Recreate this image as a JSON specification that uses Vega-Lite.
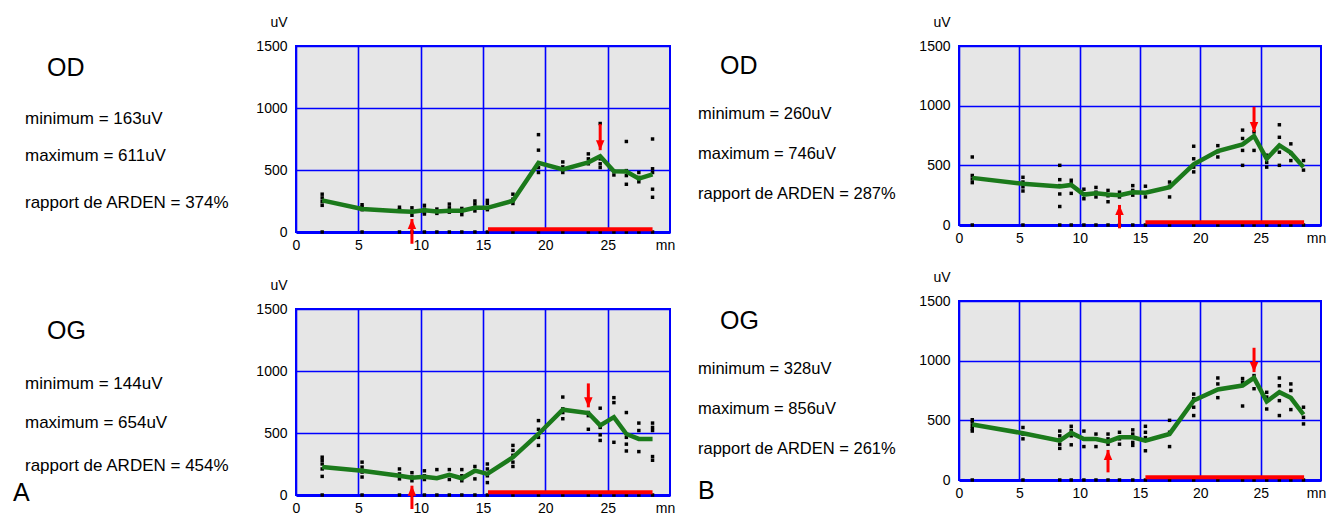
{
  "$schema": "https://vega.github.io/schema/vega-lite/v6.json",
  "background": "white",
  "padding": {"left": 0, "top": 14, "right": 0, "bottom": 0},
  "spacing": 0,
  "align": "each",
  "datasets": {
    "A": [
      {"eye":"OD","kind":"mean","t":2.1,"v":255},{"eye":"OD","kind":"mean","t":5.3,"v":185},{"eye":"OD","kind":"mean","t":8.3,"v":168},{"eye":"OD","kind":"mean","t":9.3,"v":163},{"eye":"OD","kind":"mean","t":10.3,"v":175},{"eye":"OD","kind":"mean","t":11.3,"v":165},{"eye":"OD","kind":"mean","t":12.3,"v":172},{"eye":"OD","kind":"mean","t":13.3,"v":172},{"eye":"OD","kind":"mean","t":14.35,"v":195},{"eye":"OD","kind":"mean","t":15.35,"v":195},{"eye":"OD","kind":"mean","t":17.4,"v":252},{"eye":"OD","kind":"mean","t":19.45,"v":558},{"eye":"OD","kind":"mean","t":21.4,"v":505},{"eye":"OD","kind":"mean","t":23.45,"v":562},{"eye":"OD","kind":"mean","t":24.4,"v":611},{"eye":"OD","kind":"mean","t":25.5,"v":490},{"eye":"OD","kind":"mean","t":26.5,"v":488},{"eye":"OD","kind":"mean","t":27.5,"v":430},{"eye":"OD","kind":"mean","t":28.6,"v":465},
      {"eye":"OD","kind":"dot","t":2.1,"v":305},{"eye":"OD","kind":"dot","t":2.1,"v":275},{"eye":"OD","kind":"dot","t":2.1,"v":245},{"eye":"OD","kind":"dot","t":2.1,"v":215},
      {"eye":"OD","kind":"dot","t":5.3,"v":220},{"eye":"OD","kind":"dot","t":5.3,"v":200},{"eye":"OD","kind":"dot","t":5.3,"v":180},
      {"eye":"OD","kind":"dot","t":8.3,"v":200},{"eye":"OD","kind":"dot","t":8.3,"v":180},
      {"eye":"OD","kind":"dot","t":9.3,"v":195},{"eye":"OD","kind":"dot","t":9.3,"v":165},{"eye":"OD","kind":"dot","t":9.3,"v":135},
      {"eye":"OD","kind":"dot","t":10.3,"v":215},{"eye":"OD","kind":"dot","t":10.3,"v":185},{"eye":"OD","kind":"dot","t":10.3,"v":160},{"eye":"OD","kind":"dot","t":10.3,"v":145},
      {"eye":"OD","kind":"dot","t":11.3,"v":185},{"eye":"OD","kind":"dot","t":11.3,"v":150},
      {"eye":"OD","kind":"dot","t":12.3,"v":225},{"eye":"OD","kind":"dot","t":12.3,"v":195},{"eye":"OD","kind":"dot","t":12.3,"v":160},
      {"eye":"OD","kind":"dot","t":13.3,"v":190},{"eye":"OD","kind":"dot","t":13.3,"v":165},{"eye":"OD","kind":"dot","t":13.3,"v":140},
      {"eye":"OD","kind":"dot","t":14.35,"v":250},{"eye":"OD","kind":"dot","t":14.35,"v":225},{"eye":"OD","kind":"dot","t":14.35,"v":195},{"eye":"OD","kind":"dot","t":14.35,"v":170},
      {"eye":"OD","kind":"dot","t":15.35,"v":255},{"eye":"OD","kind":"dot","t":15.35,"v":230},{"eye":"OD","kind":"dot","t":15.35,"v":180},
      {"eye":"OD","kind":"dot","t":17.4,"v":305},{"eye":"OD","kind":"dot","t":17.4,"v":265},{"eye":"OD","kind":"dot","t":17.4,"v":230},
      {"eye":"OD","kind":"dot","t":19.45,"v":785},{"eye":"OD","kind":"dot","t":19.45,"v":660},{"eye":"OD","kind":"dot","t":19.45,"v":520},{"eye":"OD","kind":"dot","t":19.45,"v":480},
      {"eye":"OD","kind":"dot","t":21.4,"v":565},{"eye":"OD","kind":"dot","t":21.4,"v":525},{"eye":"OD","kind":"dot","t":21.4,"v":480},
      {"eye":"OD","kind":"dot","t":23.45,"v":630},{"eye":"OD","kind":"dot","t":23.45,"v":590},{"eye":"OD","kind":"dot","t":23.45,"v":550},
      {"eye":"OD","kind":"dot","t":24.4,"v":875},{"eye":"OD","kind":"dot","t":24.4,"v":590},{"eye":"OD","kind":"dot","t":24.4,"v":550},{"eye":"OD","kind":"dot","t":24.4,"v":520},
      {"eye":"OD","kind":"dot","t":25.5,"v":490},{"eye":"OD","kind":"dot","t":25.5,"v":460},
      {"eye":"OD","kind":"dot","t":26.5,"v":730},{"eye":"OD","kind":"dot","t":26.5,"v":495},{"eye":"OD","kind":"dot","t":26.5,"v":455},{"eye":"OD","kind":"dot","t":26.5,"v":385},
      {"eye":"OD","kind":"dot","t":27.5,"v":480},{"eye":"OD","kind":"dot","t":27.5,"v":440},{"eye":"OD","kind":"dot","t":27.5,"v":405},
      {"eye":"OD","kind":"dot","t":28.6,"v":750},{"eye":"OD","kind":"dot","t":28.6,"v":510},{"eye":"OD","kind":"dot","t":28.6,"v":480},{"eye":"OD","kind":"dot","t":28.6,"v":345},{"eye":"OD","kind":"dot","t":28.6,"v":280},
      {"eye":"OD","kind":"up","t":9.3,"tail":-95,"tip":105},{"eye":"OD","kind":"down","t":24.4,"tail":870,"tip":660},
      {"eye":"OD","kind":"light","t":15.4,"t2":28.6,"v":22},
      {"eye":"OG","kind":"mean","t":2.1,"v":226},{"eye":"OG","kind":"mean","t":5.3,"v":196},{"eye":"OG","kind":"mean","t":8.3,"v":156},{"eye":"OG","kind":"mean","t":9.3,"v":140},{"eye":"OG","kind":"mean","t":10.3,"v":148},{"eye":"OG","kind":"mean","t":11.3,"v":135},{"eye":"OG","kind":"mean","t":12.3,"v":162},{"eye":"OG","kind":"mean","t":13.3,"v":135},{"eye":"OG","kind":"mean","t":14.35,"v":196},{"eye":"OG","kind":"mean","t":15.35,"v":170},{"eye":"OG","kind":"mean","t":17.4,"v":304},{"eye":"OG","kind":"mean","t":19.45,"v":492},{"eye":"OG","kind":"mean","t":21.4,"v":688},{"eye":"OG","kind":"mean","t":23.45,"v":661},{"eye":"OG","kind":"mean","t":24.4,"v":562},{"eye":"OG","kind":"mean","t":25.5,"v":628},{"eye":"OG","kind":"mean","t":26.5,"v":492},{"eye":"OG","kind":"mean","t":27.5,"v":452},{"eye":"OG","kind":"mean","t":28.6,"v":452},
      {"eye":"OG","kind":"dot","t":2.1,"v":305},{"eye":"OG","kind":"dot","t":2.1,"v":280},{"eye":"OG","kind":"dot","t":2.1,"v":250},{"eye":"OG","kind":"dot","t":2.1,"v":210},{"eye":"OG","kind":"dot","t":2.1,"v":150},
      {"eye":"OG","kind":"dot","t":5.3,"v":265},{"eye":"OG","kind":"dot","t":5.3,"v":225},{"eye":"OG","kind":"dot","t":5.3,"v":185},{"eye":"OG","kind":"dot","t":5.3,"v":145},
      {"eye":"OG","kind":"dot","t":8.3,"v":210},{"eye":"OG","kind":"dot","t":8.3,"v":170},{"eye":"OG","kind":"dot","t":8.3,"v":130},
      {"eye":"OG","kind":"dot","t":9.3,"v":180},{"eye":"OG","kind":"dot","t":9.3,"v":145},{"eye":"OG","kind":"dot","t":9.3,"v":115},
      {"eye":"OG","kind":"dot","t":10.3,"v":195},{"eye":"OG","kind":"dot","t":10.3,"v":155},{"eye":"OG","kind":"dot","t":10.3,"v":125},
      {"eye":"OG","kind":"dot","t":11.3,"v":205},{"eye":"OG","kind":"dot","t":11.3,"v":135},
      {"eye":"OG","kind":"dot","t":12.3,"v":205},{"eye":"OG","kind":"dot","t":12.3,"v":160},{"eye":"OG","kind":"dot","t":12.3,"v":125},
      {"eye":"OG","kind":"dot","t":13.3,"v":205},{"eye":"OG","kind":"dot","t":13.3,"v":155},{"eye":"OG","kind":"dot","t":13.3,"v":115},
      {"eye":"OG","kind":"dot","t":14.35,"v":230},{"eye":"OG","kind":"dot","t":14.35,"v":195},{"eye":"OG","kind":"dot","t":14.35,"v":130},
      {"eye":"OG","kind":"dot","t":15.35,"v":250},{"eye":"OG","kind":"dot","t":15.35,"v":210},{"eye":"OG","kind":"dot","t":15.35,"v":155},{"eye":"OG","kind":"dot","t":15.35,"v":100},
      {"eye":"OG","kind":"dot","t":17.4,"v":400},{"eye":"OG","kind":"dot","t":17.4,"v":360},{"eye":"OG","kind":"dot","t":17.4,"v":320},{"eye":"OG","kind":"dot","t":17.4,"v":265},{"eye":"OG","kind":"dot","t":17.4,"v":230},
      {"eye":"OG","kind":"dot","t":19.45,"v":600},{"eye":"OG","kind":"dot","t":19.45,"v":530},{"eye":"OG","kind":"dot","t":19.45,"v":465},{"eye":"OG","kind":"dot","t":19.45,"v":400},
      {"eye":"OG","kind":"dot","t":21.4,"v":790},{"eye":"OG","kind":"dot","t":21.4,"v":695},{"eye":"OG","kind":"dot","t":21.4,"v":665},{"eye":"OG","kind":"dot","t":21.4,"v":615},
      {"eye":"OG","kind":"dot","t":23.45,"v":665},{"eye":"OG","kind":"dot","t":23.45,"v":640},{"eye":"OG","kind":"dot","t":23.45,"v":530},
      {"eye":"OG","kind":"dot","t":24.4,"v":700},{"eye":"OG","kind":"dot","t":24.4,"v":545},{"eye":"OG","kind":"dot","t":24.4,"v":485},{"eye":"OG","kind":"dot","t":24.4,"v":440},
      {"eye":"OG","kind":"dot","t":25.5,"v":785},{"eye":"OG","kind":"dot","t":25.5,"v":745},{"eye":"OG","kind":"dot","t":25.5,"v":425},
      {"eye":"OG","kind":"dot","t":26.5,"v":665},{"eye":"OG","kind":"dot","t":26.5,"v":465},{"eye":"OG","kind":"dot","t":26.5,"v":410},{"eye":"OG","kind":"dot","t":26.5,"v":355},
      {"eye":"OG","kind":"dot","t":27.5,"v":580},{"eye":"OG","kind":"dot","t":27.5,"v":520},{"eye":"OG","kind":"dot","t":27.5,"v":350},
      {"eye":"OG","kind":"dot","t":28.6,"v":580},{"eye":"OG","kind":"dot","t":28.6,"v":545},{"eye":"OG","kind":"dot","t":28.6,"v":520},{"eye":"OG","kind":"dot","t":28.6,"v":310},{"eye":"OG","kind":"dot","t":28.6,"v":280},
      {"eye":"OG","kind":"up","t":9.3,"tail":-113,"tip":75},{"eye":"OG","kind":"down","t":23.45,"tail":900,"tip":707},
      {"eye":"OG","kind":"light","t":15.4,"t2":28.6,"v":22}
    ],
    "B": [
      {"eye":"OD","kind":"mean","t":1.1,"v":395},{"eye":"OD","kind":"mean","t":5.3,"v":345},{"eye":"OD","kind":"mean","t":8.35,"v":322},{"eye":"OD","kind":"mean","t":9.3,"v":336},{"eye":"OD","kind":"mean","t":10.35,"v":255},{"eye":"OD","kind":"mean","t":11.35,"v":266},{"eye":"OD","kind":"mean","t":12.35,"v":255},{"eye":"OD","kind":"mean","t":13.3,"v":250},{"eye":"OD","kind":"mean","t":14.4,"v":275},{"eye":"OD","kind":"mean","t":15.45,"v":270},{"eye":"OD","kind":"mean","t":17.45,"v":317},{"eye":"OD","kind":"mean","t":19.45,"v":508},{"eye":"OD","kind":"mean","t":21.45,"v":620},{"eye":"OD","kind":"mean","t":23.5,"v":676},{"eye":"OD","kind":"mean","t":24.45,"v":746},{"eye":"OD","kind":"mean","t":25.5,"v":555},{"eye":"OD","kind":"mean","t":26.55,"v":667},{"eye":"OD","kind":"mean","t":27.5,"v":606},{"eye":"OD","kind":"mean","t":28.55,"v":485},
      {"eye":"OD","kind":"dot","t":1.1,"v":570},{"eye":"OD","kind":"dot","t":1.1,"v":415},{"eye":"OD","kind":"dot","t":1.1,"v":385},{"eye":"OD","kind":"dot","t":1.1,"v":355},
      {"eye":"OD","kind":"dot","t":5.3,"v":400},{"eye":"OD","kind":"dot","t":5.3,"v":360},{"eye":"OD","kind":"dot","t":5.3,"v":320},{"eye":"OD","kind":"dot","t":5.3,"v":285},
      {"eye":"OD","kind":"dot","t":8.35,"v":500},{"eye":"OD","kind":"dot","t":8.35,"v":380},{"eye":"OD","kind":"dot","t":8.35,"v":330},{"eye":"OD","kind":"dot","t":8.35,"v":260},{"eye":"OD","kind":"dot","t":8.35,"v":155},
      {"eye":"OD","kind":"dot","t":9.3,"v":375},{"eye":"OD","kind":"dot","t":9.3,"v":345},{"eye":"OD","kind":"dot","t":9.3,"v":265},
      {"eye":"OD","kind":"dot","t":10.35,"v":300},{"eye":"OD","kind":"dot","t":10.35,"v":260},{"eye":"OD","kind":"dot","t":10.35,"v":220},
      {"eye":"OD","kind":"dot","t":11.35,"v":315},{"eye":"OD","kind":"dot","t":11.35,"v":275},{"eye":"OD","kind":"dot","t":11.35,"v":235},
      {"eye":"OD","kind":"dot","t":12.35,"v":290},{"eye":"OD","kind":"dot","t":12.35,"v":245},{"eye":"OD","kind":"dot","t":12.35,"v":195},
      {"eye":"OD","kind":"dot","t":13.3,"v":275},{"eye":"OD","kind":"dot","t":13.3,"v":235},
      {"eye":"OD","kind":"dot","t":14.4,"v":330},{"eye":"OD","kind":"dot","t":14.4,"v":290},{"eye":"OD","kind":"dot","t":14.4,"v":250},
      {"eye":"OD","kind":"dot","t":15.45,"v":325},{"eye":"OD","kind":"dot","t":15.45,"v":235},
      {"eye":"OD","kind":"dot","t":17.45,"v":360},{"eye":"OD","kind":"dot","t":17.45,"v":325},{"eye":"OD","kind":"dot","t":17.45,"v":235},
      {"eye":"OD","kind":"dot","t":19.45,"v":660},{"eye":"OD","kind":"dot","t":19.45,"v":555},{"eye":"OD","kind":"dot","t":19.45,"v":485},{"eye":"OD","kind":"dot","t":19.45,"v":445},
      {"eye":"OD","kind":"dot","t":21.45,"v":665},{"eye":"OD","kind":"dot","t":21.45,"v":615},{"eye":"OD","kind":"dot","t":21.45,"v":570},
      {"eye":"OD","kind":"dot","t":23.5,"v":795},{"eye":"OD","kind":"dot","t":23.5,"v":725},{"eye":"OD","kind":"dot","t":23.5,"v":625},{"eye":"OD","kind":"dot","t":23.5,"v":500},
      {"eye":"OD","kind":"dot","t":24.45,"v":780},{"eye":"OD","kind":"dot","t":24.45,"v":625},
      {"eye":"OD","kind":"dot","t":25.5,"v":585},{"eye":"OD","kind":"dot","t":25.5,"v":525},{"eye":"OD","kind":"dot","t":25.5,"v":485},
      {"eye":"OD","kind":"dot","t":26.55,"v":840},{"eye":"OD","kind":"dot","t":26.55,"v":735},{"eye":"OD","kind":"dot","t":26.55,"v":610},{"eye":"OD","kind":"dot","t":26.55,"v":500},
      {"eye":"OD","kind":"dot","t":27.5,"v":680},{"eye":"OD","kind":"dot","t":27.5,"v":600},{"eye":"OD","kind":"dot","t":27.5,"v":540},
      {"eye":"OD","kind":"dot","t":28.55,"v":540},{"eye":"OD","kind":"dot","t":28.55,"v":460},
      {"eye":"OD","kind":"up","t":13.3,"tail":-28,"tip":168},{"eye":"OD","kind":"down","t":24.45,"tail":990,"tip":780},
      {"eye":"OD","kind":"light","t":15.45,"t2":28.6,"v":22},
      {"eye":"OG","kind":"mean","t":1.1,"v":465},{"eye":"OG","kind":"mean","t":5.3,"v":392},{"eye":"OG","kind":"mean","t":8.35,"v":330},{"eye":"OG","kind":"mean","t":9.3,"v":395},{"eye":"OG","kind":"mean","t":10.35,"v":344},{"eye":"OG","kind":"mean","t":11.35,"v":344},{"eye":"OG","kind":"mean","t":12.35,"v":322},{"eye":"OG","kind":"mean","t":13.3,"v":358},{"eye":"OG","kind":"mean","t":14.4,"v":358},{"eye":"OG","kind":"mean","t":15.45,"v":330},{"eye":"OG","kind":"mean","t":17.45,"v":386},{"eye":"OG","kind":"mean","t":19.45,"v":666},{"eye":"OG","kind":"mean","t":21.45,"v":758},{"eye":"OG","kind":"mean","t":23.5,"v":792},{"eye":"OG","kind":"mean","t":24.45,"v":856},{"eye":"OG","kind":"mean","t":25.5,"v":658},{"eye":"OG","kind":"mean","t":26.55,"v":736},{"eye":"OG","kind":"mean","t":27.5,"v":689},{"eye":"OG","kind":"mean","t":28.55,"v":549},
      {"eye":"OG","kind":"dot","t":1.1,"v":505},{"eye":"OG","kind":"dot","t":1.1,"v":485},{"eye":"OG","kind":"dot","t":1.1,"v":455},{"eye":"OG","kind":"dot","t":1.1,"v":430},{"eye":"OG","kind":"dot","t":1.1,"v":410},
      {"eye":"OG","kind":"dot","t":5.3,"v":440},{"eye":"OG","kind":"dot","t":5.3,"v":385},{"eye":"OG","kind":"dot","t":5.3,"v":345},
      {"eye":"OG","kind":"dot","t":8.35,"v":410},{"eye":"OG","kind":"dot","t":8.35,"v":370},{"eye":"OG","kind":"dot","t":8.35,"v":335},{"eye":"OG","kind":"dot","t":8.35,"v":300},{"eye":"OG","kind":"dot","t":8.35,"v":265},
      {"eye":"OG","kind":"dot","t":9.3,"v":450},{"eye":"OG","kind":"dot","t":9.3,"v":415},{"eye":"OG","kind":"dot","t":9.3,"v":370},{"eye":"OG","kind":"dot","t":9.3,"v":295},
      {"eye":"OG","kind":"dot","t":10.35,"v":410},{"eye":"OG","kind":"dot","t":10.35,"v":345},{"eye":"OG","kind":"dot","t":10.35,"v":280},
      {"eye":"OG","kind":"dot","t":11.35,"v":385},{"eye":"OG","kind":"dot","t":11.35,"v":345},{"eye":"OG","kind":"dot","t":11.35,"v":280},
      {"eye":"OG","kind":"dot","t":12.35,"v":385},{"eye":"OG","kind":"dot","t":12.35,"v":345},{"eye":"OG","kind":"dot","t":12.35,"v":300},
      {"eye":"OG","kind":"dot","t":13.3,"v":400},{"eye":"OG","kind":"dot","t":13.3,"v":345},{"eye":"OG","kind":"dot","t":13.3,"v":300},
      {"eye":"OG","kind":"dot","t":14.4,"v":420},{"eye":"OG","kind":"dot","t":14.4,"v":385},{"eye":"OG","kind":"dot","t":14.4,"v":315},{"eye":"OG","kind":"dot","t":14.4,"v":290},
      {"eye":"OG","kind":"dot","t":15.45,"v":450},{"eye":"OG","kind":"dot","t":15.45,"v":400},{"eye":"OG","kind":"dot","t":15.45,"v":355},{"eye":"OG","kind":"dot","t":15.45,"v":245},
      {"eye":"OG","kind":"dot","t":17.45,"v":500},{"eye":"OG","kind":"dot","t":17.45,"v":400},{"eye":"OG","kind":"dot","t":17.45,"v":280},
      {"eye":"OG","kind":"dot","t":19.45,"v":720},{"eye":"OG","kind":"dot","t":19.45,"v":680},{"eye":"OG","kind":"dot","t":19.45,"v":610},{"eye":"OG","kind":"dot","t":19.45,"v":540},
      {"eye":"OG","kind":"dot","t":21.45,"v":855},{"eye":"OG","kind":"dot","t":21.45,"v":805},{"eye":"OG","kind":"dot","t":21.45,"v":690},
      {"eye":"OG","kind":"dot","t":23.5,"v":850},{"eye":"OG","kind":"dot","t":23.5,"v":820},{"eye":"OG","kind":"dot","t":23.5,"v":620},
      {"eye":"OG","kind":"dot","t":24.45,"v":875},{"eye":"OG","kind":"dot","t":24.45,"v":765},
      {"eye":"OG","kind":"dot","t":25.5,"v":735},{"eye":"OG","kind":"dot","t":25.5,"v":695},{"eye":"OG","kind":"dot","t":25.5,"v":595},
      {"eye":"OG","kind":"dot","t":26.55,"v":855},{"eye":"OG","kind":"dot","t":26.55,"v":790},{"eye":"OG","kind":"dot","t":26.55,"v":665},{"eye":"OG","kind":"dot","t":26.55,"v":540},
      {"eye":"OG","kind":"dot","t":27.5,"v":805},{"eye":"OG","kind":"dot","t":27.5,"v":750},{"eye":"OG","kind":"dot","t":27.5,"v":590},
      {"eye":"OG","kind":"dot","t":28.55,"v":610},{"eye":"OG","kind":"dot","t":28.55,"v":525},{"eye":"OG","kind":"dot","t":28.55,"v":470},
      {"eye":"OG","kind":"up","t":12.35,"tail":64,"tip":252},{"eye":"OG","kind":"down","t":24.45,"tail":1108,"tip":904},
      {"eye":"OG","kind":"light","t":15.45,"t2":28.6,"v":22}
    ]
  },
  "hconcat": [
    {
      "width": 254, "height": 470,
      "view": {"stroke": null, "fill": null},
      "data": {"values": [
        {"kind":"head","x":47,"y":75,"label":"OD"},
        {"kind":"body","x":25,"y":123,"label":"minimum = 163uV"},
        {"kind":"body","x":25,"y":160,"label":"maximum = 611uV"},
        {"kind":"body","x":25,"y":207,"label":"rapport de ARDEN = 374%"},
        {"kind":"head","x":47,"y":338,"label":"OG"},
        {"kind":"body","x":25,"y":388,"label":"minimum = 144uV"},
        {"kind":"body","x":25,"y":427,"label":"maximum = 654uV"},
        {"kind":"body","x":25,"y":470,"label":"rapport de ARDEN = 454%"},
        {"kind":"head","x":13,"y":500,"label":"A"}
      ]},
      "encoding": {
        "x": {"field": "x", "type": "quantitative", "scale": {"domain": [0, 254], "nice": false, "zero": false}, "axis": null},
        "y": {"field": "y", "type": "quantitative", "scale": {"domain": [45, 515], "nice": false, "zero": false, "reverse": true}, "axis": null},
        "text": {"field": "label"}
      },
      "layer": [
        {"transform": [{"filter": "datum.kind == 'head'"}], "mark": {"type": "text", "align": "left", "baseline": "alphabetic", "fontSize": 25, "font": "Liberation Sans", "color": "#000000"}},
        {"transform": [{"filter": "datum.kind == 'body'"}], "mark": {"type": "text", "align": "left", "baseline": "alphabetic", "fontSize": 17, "font": "Liberation Sans", "color": "#000000"}}
      ]
    },
    {
      "data": {"name": "A"},
      "facet": {"row": {"field": "eye", "type": "nominal", "title": null, "header": {"labels": false}}},
      "spacing": 77,
      "bounds": "flush",
      "resolve": {"axis": {"x": "independent", "y": "independent"}},
      "spec": {
        "width": 374, "height": 186,
        "encoding": {
          "x": {"field": "t", "type": "quantitative", "title": "mn", "scale": {"domain": [0, 30], "nice": false, "zero": false}, "axis": {"values": [0, 5, 10, 15, 20, 25], "titleX": 369}},
          "y": {"field": "v", "type": "quantitative", "title": "uV", "scale": {"domain": [0, 1500], "nice": false}, "axis": {"values": [0, 500, 1000, 1500], "format": "d"}}
        },
        "layer": [
          {"transform": [{"filter": "datum.kind == 'mean'"}], "mark": {"type": "point", "shape": "square", "filled": true, "color": "#000000", "opacity": 1, "size": 12}, "encoding": {"y": {"datum": 0, "scale": {"domain": [0, 1500], "nice": false}}}},
          {"transform": [{"filter": "datum.kind == 'light'"}], "mark": {"type": "rule", "color": "#ff0000", "strokeWidth": 4}, "encoding": {"x2": {"field": "t2"}}},
          {"transform": [{"filter": "datum.kind == 'dot'"}], "mark": {"type": "point", "shape": "square", "filled": true, "color": "#000000", "opacity": 1, "size": 12}},
          {"transform": [{"filter": "datum.kind == 'mean'"}], "mark": {"type": "line", "color": "#1b7a1b", "strokeWidth": 4.5}},
          {"transform": [{"filter": "datum.kind == 'up' || datum.kind == 'down'"}], "mark": {"type": "rule", "color": "#ff0000", "strokeWidth": 3}, "encoding": {"y": {"field": "tail", "type": "quantitative", "title": "uV", "scale": {"domain": [0, 1500], "nice": false}}, "y2": {"field": "tip"}}},
          {"transform": [{"filter": "datum.kind == 'up'"}], "mark": {"type": "point", "shape": "M-0.85,1L0.85,1L0,-1Z", "filled": true, "color": "#ff0000", "opacity": 1, "size": 100, "yOffset": 5}, "encoding": {"y": {"field": "tip", "type": "quantitative", "title": "uV", "scale": {"domain": [0, 1500], "nice": false}}}},
          {"transform": [{"filter": "datum.kind == 'down'"}], "mark": {"type": "point", "shape": "M-0.85,-1L0.85,-1L0,1Z", "filled": true, "color": "#ff0000", "opacity": 1, "size": 100, "yOffset": -5}, "encoding": {"y": {"field": "tip", "type": "quantitative", "title": "uV", "scale": {"domain": [0, 1500], "nice": false}}}}
        ]
      }
    },
    {
      "width": 241, "height": 470,
      "view": {"stroke": null, "fill": null},
      "data": {"values": [
        {"kind":"head","x":720,"y":73,"label":"OD"},
        {"kind":"body","x":698,"y":118,"label":"minimum = 260uV"},
        {"kind":"body","x":698,"y":158,"label":"maximum = 746uV"},
        {"kind":"body","x":698,"y":198,"label":"rapport de ARDEN = 287%"},
        {"kind":"head","x":720,"y":328,"label":"OG"},
        {"kind":"body","x":698,"y":373,"label":"minimum = 328uV"},
        {"kind":"body","x":698,"y":413,"label":"maximum = 856uV"},
        {"kind":"body","x":698,"y":453,"label":"rapport de ARDEN = 261%"},
        {"kind":"head","x":698,"y":498,"label":"B"}
      ]},
      "encoding": {
        "x": {"field": "x", "type": "quantitative", "scale": {"domain": [676, 917], "nice": false, "zero": false}, "axis": null},
        "y": {"field": "y", "type": "quantitative", "scale": {"domain": [45, 515], "nice": false, "zero": false, "reverse": true}, "axis": null},
        "text": {"field": "label"}
      },
      "layer": [
        {"transform": [{"filter": "datum.kind == 'head'"}], "mark": {"type": "text", "align": "left", "baseline": "alphabetic", "fontSize": 25, "font": "Liberation Sans", "color": "#000000"}},
        {"transform": [{"filter": "datum.kind == 'body'"}], "mark": {"type": "text", "align": "left", "baseline": "alphabetic", "fontSize": 16.5, "font": "Liberation Sans", "color": "#000000"}}
      ]
    },
    {
      "data": {"name": "B"},
      "facet": {"row": {"field": "eye", "type": "nominal", "title": null, "header": {"labels": false}}},
      "spacing": 76,
      "bounds": "flush",
      "resolve": {"axis": {"x": "independent", "y": "independent"}},
      "spec": {
        "width": 362, "height": 179,
        "encoding": {
          "x": {"field": "t", "type": "quantitative", "title": "mn", "scale": {"domain": [0, 30], "nice": false, "zero": false}, "axis": {"values": [0, 5, 10, 15, 20, 25], "titleX": 357}},
          "y": {"field": "v", "type": "quantitative", "title": "uV", "scale": {"domain": [0, 1500], "nice": false}, "axis": {"values": [0, 500, 1000, 1500], "format": "d"}}
        },
        "layer": [
          {"transform": [{"filter": "datum.kind == 'mean'"}], "mark": {"type": "point", "shape": "square", "filled": true, "color": "#000000", "opacity": 1, "size": 12}, "encoding": {"y": {"datum": 0, "scale": {"domain": [0, 1500], "nice": false}}}},
          {"transform": [{"filter": "datum.kind == 'light'"}], "mark": {"type": "rule", "color": "#ff0000", "strokeWidth": 4}, "encoding": {"x2": {"field": "t2"}}},
          {"transform": [{"filter": "datum.kind == 'dot'"}], "mark": {"type": "point", "shape": "square", "filled": true, "color": "#000000", "opacity": 1, "size": 12}},
          {"transform": [{"filter": "datum.kind == 'mean'"}], "mark": {"type": "line", "color": "#1b7a1b", "strokeWidth": 4.5}},
          {"transform": [{"filter": "datum.kind == 'up' || datum.kind == 'down'"}], "mark": {"type": "rule", "color": "#ff0000", "strokeWidth": 3}, "encoding": {"y": {"field": "tail", "type": "quantitative", "title": "uV", "scale": {"domain": [0, 1500], "nice": false}}, "y2": {"field": "tip"}}},
          {"transform": [{"filter": "datum.kind == 'up'"}], "mark": {"type": "point", "shape": "M-0.85,1L0.85,1L0,-1Z", "filled": true, "color": "#ff0000", "opacity": 1, "size": 100, "yOffset": 5}, "encoding": {"y": {"field": "tip", "type": "quantitative", "title": "uV", "scale": {"domain": [0, 1500], "nice": false}}}},
          {"transform": [{"filter": "datum.kind == 'down'"}], "mark": {"type": "point", "shape": "M-0.85,-1L0.85,-1L0,1Z", "filled": true, "color": "#ff0000", "opacity": 1, "size": 100, "yOffset": -5}, "encoding": {"y": {"field": "tip", "type": "quantitative", "title": "uV", "scale": {"domain": [0, 1500], "nice": false}}}}
        ]
      }
    }
  ],
  "config": {
    "font": "Liberation Sans",
    "view": {"fill": "#e6e6e6", "stroke": "#0000ff", "strokeWidth": 2},
    "axisX": {"grid": true, "gridColor": "#0000ff", "gridWidth": 1.6, "gridOpacity": 1, "domainColor": "#0000ff", "domainWidth": 3, "ticks": false, "tickSize": 0, "labelFont": "Liberation Sans", "labelFontSize": 14, "labelColor": "#000000", "labelPadding": 6, "labelFlush": false, "labelOverlap": false, "titleFont": "Liberation Sans", "titleFontSize": 14, "titleFontWeight": "normal", "titleColor": "#000000", "titleY": 17, "titleBaseline": "alphabetic", "titleAlign": "center"},
    "axisY": {"grid": true, "gridColor": "#0000ff", "gridWidth": 1.6, "gridOpacity": 1, "domain": false, "ticks": false, "tickSize": 0, "labelFont": "Liberation Sans", "labelFontSize": 14, "labelColor": "#000000", "labelPadding": 9, "labelBaseline": "middle", "labelOverlap": false, "titleFont": "Liberation Sans", "titleFontSize": 14, "titleFontWeight": "normal", "titleColor": "#000000", "titleAngle": 0, "titleAlign": "right", "titleBaseline": "alphabetic", "titleX": -9, "titleY": -20}
  }
}
